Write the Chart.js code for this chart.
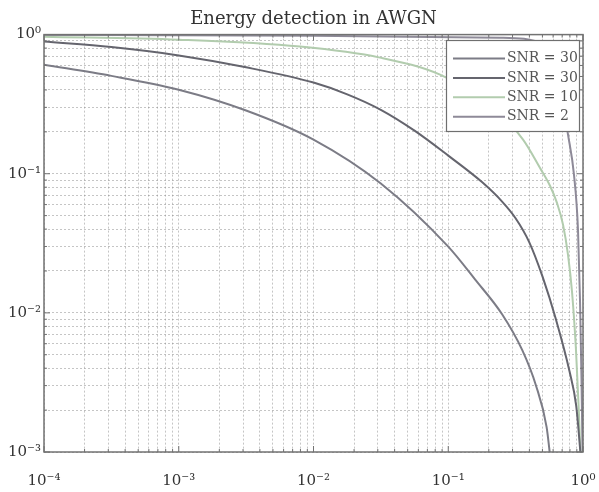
<!DOCTYPE html>
<html>
<head>
<meta charset="utf-8">
<script src="https://cdn.jsdelivr.net/npm/chart.js@4.4.0/dist/chart.umd.min.js"></script>
<style>
  html, body { margin: 0; padding: 0; background: #fff; }
</style>
</head>
<body>
<canvas id="plot" width="599" height="492"></canvas>
<script>
// Pfa / Pm pairs for each curve, read along the log-log axes
const pfaSnr30a = [1e-4, 3.16e-4, 1e-3, 3.16e-3, 1e-2, 3.16e-2, 0.1, 0.158, 0.251, 0.355, 0.447, 0.537, 0.575];
const pmSnr30a  = [0.608, 0.505, 0.402, 0.285, 0.176, 0.0851, 0.0299, 0.0174, 0.00977, 0.00537, 0.00302, 0.00151, 0.00087];

const pfaSnr30b = [1e-4, 3.16e-4, 1e-3, 3.16e-3, 1e-2, 0.0178, 0.0316, 0.0562, 0.1, 0.178, 0.251, 0.316, 0.398, 0.501, 0.631, 0.794, 0.891, 0.966];
const pmSnr30b  = [0.891, 0.813, 0.708, 0.582, 0.452, 0.372, 0.288, 0.204, 0.135, 0.0871, 0.0631, 0.0479, 0.0324, 0.0182, 0.00891, 0.0038, 0.00214, 0.00089];

const pfaSnr10 = [1e-4, 1e-3, 7.94e-3, 0.0312, 0.0869, 0.204, 0.359, 0.48, 0.569, 0.641, 0.711, 0.774, 0.829, 0.887, 0.934, 0.966];
const pmSnr10  = [0.967, 0.92, 0.82, 0.683, 0.515, 0.313, 0.176, 0.11, 0.082, 0.0618, 0.043, 0.0261, 0.01416, 0.00542, 0.00185, 0.00074];

const pfaSnr2 = [1e-4, 1e-2, 0.242, 0.52, 0.62, 0.774, 0.857, 0.918, 0.95, 0.975, 0.9915];
const pmSnr2  = [0.995, 0.983, 0.95, 0.85, 0.66, 0.191, 0.0984, 0.0395, 0.0124, 0.0033, 0.001];

const seriesLabels = ['SNR = 30', 'SNR = 30', 'SNR = 10', 'SNR = 2'];
const seriesColors = ['#7c7c86', '#65656e', '#b2ccae', '#8e8a98'];

const xTickValues = [1e-4, 1e-3, 1e-2, 1e-1, 1];
const xTickLabels = ['10⁻⁴', '10⁻³', '10⁻²', '10⁻¹', '10⁰'];
const yTickValues = [1e-3, 1e-2, 1e-1, 1];
const yTickLabels = ['10⁻³', '10⁻²', '10⁻¹', '10⁰'];

const serif = "'DejaVu Serif', 'Liberation Serif', serif";

function pairs(xs, ys) {
    return xs.map((x, i) => ({ x: x, y: ys[i] }));
}

// 1..9 x 10^k ticks so every minor grid line is drawn
function decadeTicks(scale) {
    const ticks = [];
    const lo = Math.round(Math.log10(scale.min));
    const hi = Math.round(Math.log10(scale.max));
    for (let e = lo; e <= hi; e++) {
        for (let s = 1; s <= 9; s++) {
            const v = s * Math.pow(10, e);
            if (v > scale.max * 1.0001) break;
            ticks.push({ value: v });
        }
    }
    scale.ticks = ticks;
}

function labelFor(values, labels) {
    return (value) => {
        const i = values.findIndex((v) => Math.abs(v - value) / v < 1e-6);
        return i >= 0 ? labels[i] : '';
    };
}

const datasets = [
    [pfaSnr30a, pmSnr30a],
    [pfaSnr30b, pmSnr30b],
    [pfaSnr10, pmSnr10],
    [pfaSnr2, pmSnr2]
].map(([xs, ys], i) => ({
    label: seriesLabels[i],
    data: pairs(xs, ys),
    borderColor: seriesColors[i],
    borderWidth: 2,
    pointRadius: 0,
    fill: false,
    cubicInterpolationMode: 'monotone'
}));

// legend box in the top right corner of the plot
const legendBox = {
    id: 'legendBox',
    afterDatasetsDraw(chart) {
        const ctx = chart.ctx;
        const left = 446, top = 40, right = 579, bottom = 131;
        ctx.save();
        ctx.fillStyle = '#ffffff';
        ctx.fillRect(left, top, right - left, bottom - top);
        ctx.strokeStyle = '#6f6f6f';
        ctx.lineWidth = 1.2;
        ctx.strokeRect(left + 0.5, top + 0.5, right - left, bottom - top);
        ctx.font = '14px ' + serif;
        ctx.textBaseline = 'middle';
        chart.data.datasets.forEach((ds, i) => {
            const y = 58.5 + i * 19.4;
            ctx.strokeStyle = ds.borderColor;
            ctx.lineWidth = 2;
            ctx.beginPath();
            ctx.moveTo(453, y);
            ctx.lineTo(505, y);
            ctx.stroke();
            ctx.fillStyle = '#555';
            ctx.fillText(ds.label, 507, y);
        });
        ctx.restore();
    }
};

// axes box with inward tick marks
const axesBox = {
    id: 'axesBox',
    afterDraw(chart) {
        const { ctx, chartArea: a, scales } = chart;
        ctx.save();
        ctx.strokeStyle = '#727272';
        ctx.lineWidth = 1.5;
        ctx.strokeRect(a.left, a.top, a.right - a.left, a.bottom - a.top);
        ctx.lineWidth = 1;
        ctx.beginPath();
        scales.x.ticks.forEach((t) => {
            const px = scales.x.getPixelForValue(t.value);
            const len = xTickValues.includes(t.value) ? 6 : 3;
            ctx.moveTo(px, a.bottom); ctx.lineTo(px, a.bottom - len);
            ctx.moveTo(px, a.top); ctx.lineTo(px, a.top + len);
        });
        scales.y.ticks.forEach((t) => {
            const py = scales.y.getPixelForValue(t.value);
            const len = yTickValues.includes(t.value) ? 6 : 3;
            ctx.moveTo(a.left, py); ctx.lineTo(a.left + len, py);
            ctx.moveTo(a.right, py); ctx.lineTo(a.right - len, py);
        });
        ctx.stroke();
        ctx.restore();
    }
};

new Chart(document.getElementById('plot'), {
    type: 'line',
    data: { datasets: datasets },
    options: {
        responsive: false,
        animation: false,
        layout: { padding: { left: 0, right: 16, top: 0, bottom: 0 } },
        scales: {
            x: {
                type: 'logarithmic',
                min: 1e-4,
                max: 1,
                afterBuildTicks: decadeTicks,
                afterFit: (scale) => {
                    scale.height = 40;
                    scale.paddingLeft = 0;
                    scale.paddingRight = 0;
                },
                grid: { color: 'rgba(140,140,140,0.5)', drawTicks: false, lineWidth: 1 },
                border: { display: false, dash: [2, 2] },
                ticks: {
                    autoSkip: false,
                    maxRotation: 0,
                    padding: 20,
                    color: '#333',
                    font: { family: serif, size: 15 },
                    callback: labelFor(xTickValues, xTickLabels)
                }
            },
            y: {
                type: 'logarithmic',
                min: 1e-3,
                max: 1,
                afterBuildTicks: decadeTicks,
                afterFit: (scale) => {
                    scale.width = 44;
                    scale.paddingTop = 0;
                    scale.paddingBottom = 0;
                },
                grid: { color: 'rgba(140,140,140,0.5)', drawTicks: false, lineWidth: 1 },
                border: { display: false, dash: [2, 2] },
                ticks: {
                    autoSkip: false,
                    padding: 3,
                    color: '#333',
                    font: { family: serif, size: 15 },
                    callback: labelFor(yTickValues, yTickLabels)
                }
            }
        },
        plugins: {
            legend: { display: false },
            tooltip: { enabled: false },
            title: {
                display: true,
                fullSize: false,
                text: 'Energy detection in AWGN',
                color: '#333',
                font: { family: serif, size: 18, weight: 'normal' },
                padding: { top: 9, bottom: 4 }
            }
        }
    },
    plugins: [legendBox, axesBox]
});
</script>
</body>
</html>
